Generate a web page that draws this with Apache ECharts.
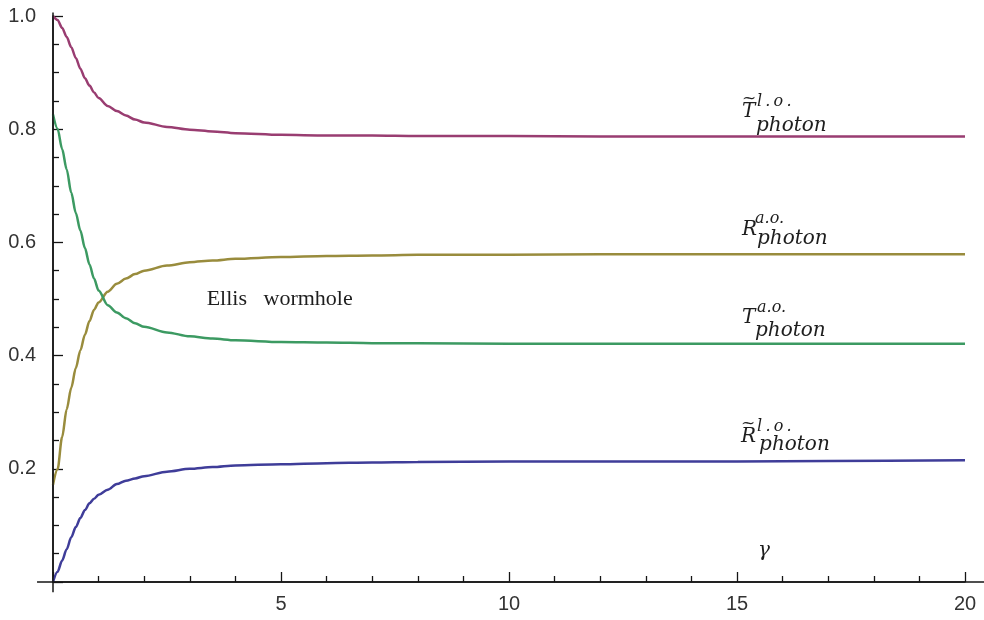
<!DOCTYPE html>
<html>
<head>
<meta charset="utf-8">
<script src="https://cdn.jsdelivr.net/npm/echarts@6/dist/echarts.min.js"></script>
<style>
  html, body { margin: 0; padding: 0; background: #ffffff; }
  #main { width: 984px; height: 620px; }
</style>
</head>
<body>
<div id="main"></div>
<script>
// ---- data ----
const gammaValues = [0, 0.1, 0.2, 0.3, 0.4, 0.5, 0.6, 0.7, 0.8, 0.9, 1, 1.2, 1.4, 1.6, 1.8, 2, 2.5, 3, 3.5, 4, 5, 6, 7, 8, 10, 12, 15, 17, 20];
const tTildeLO = [1.000, 0.993, 0.979, 0.963, 0.945, 0.926, 0.907, 0.890, 0.877, 0.865, 0.855, 0.841, 0.832, 0.824, 0.817, 0.812, 0.804, 0.799, 0.796, 0.793, 0.790, 0.789, 0.789, 0.788, 0.788, 0.787, 0.787, 0.787, 0.787];
const rAO      = [0.172, 0.199, 0.256, 0.305, 0.343, 0.378, 0.409, 0.437, 0.461, 0.481, 0.494, 0.513, 0.527, 0.536, 0.544, 0.550, 0.559, 0.565, 0.568, 0.571, 0.574, 0.576, 0.577, 0.578, 0.578, 0.579, 0.579, 0.579, 0.579];
const tAO      = [0.826, 0.801, 0.765, 0.729, 0.688, 0.652, 0.621, 0.590, 0.561, 0.536, 0.515, 0.489, 0.476, 0.466, 0.457, 0.451, 0.441, 0.434, 0.430, 0.427, 0.424, 0.423, 0.422, 0.422, 0.421, 0.421, 0.421, 0.421, 0.421];
const rTildeLO = [0.000, 0.018, 0.038, 0.058, 0.079, 0.097, 0.113, 0.127, 0.139, 0.147, 0.154, 0.163, 0.173, 0.179, 0.183, 0.187, 0.195, 0.200, 0.203, 0.206, 0.208, 0.210, 0.211, 0.212, 0.213, 0.213, 0.213, 0.214, 0.215];
const xTickLabels = [5, 10, 15, 20];
const yTickLabels = [0.2, 0.4, 0.6, 0.8, 1.0];
const annotationText = 'Ellis   wormhole';
const axisVariable = 'γ';

// ---- chart ----
const chart = echarts.init(document.getElementById('main'), null, { renderer: 'canvas' });

function pairs(ys) { return gammaValues.map((g, i) => [g, ys[i]]); }

const axisColor = '#151515';
const labelFont = { fontFamily: '"Liberation Sans", Arial, sans-serif', fontSize: 20, color: '#333333' };

function lineSeries(name, ys, color) {
  return {
    name: name,
    type: 'line',
    data: pairs(ys),
    showSymbol: false,
    symbol: 'none',
    smooth: 0.3,
    smoothMonotone: 'x',
    silent: true,
    lineStyle: { width: 2.5, color: color },
    itemStyle: { color: color }
  };
}

const option = {
  animation: false,
  backgroundColor: '#ffffff',
  grid: { left: 53, right: 19, top: 16, bottom: 38, containLabel: false },
  xAxis: {
    type: 'value',
    min: 0, max: 20, interval: 5,
    axisLine: { show: true, onZero: false, lineStyle: { color: axisColor, width: 1.5 } },
    axisTick: { show: true, inside: true, length: 10, lineStyle: { color: axisColor, width: 1.3 } },
    minorTick: { show: true, splitNumber: 5, length: 6, lineStyle: { color: axisColor, width: 1.3 } },
    splitLine: { show: false },
    minorSplitLine: { show: false },
    axisLabel: Object.assign({
      margin: 12,
      formatter: v => (xTickLabels.indexOf(v) >= 0 ? String(v) : '')
    }, labelFont)
  },
  yAxis: {
    type: 'value',
    min: 0, max: 1, interval: 0.2,
    axisLine: { show: true, onZero: false, lineStyle: { color: axisColor, width: 1.5 } },
    axisTick: { show: true, inside: true, length: 10, lineStyle: { color: axisColor, width: 1.3 } },
    minorTick: { show: true, splitNumber: 4, length: 6, lineStyle: { color: axisColor, width: 1.3 } },
    splitLine: { show: false },
    minorSplitLine: { show: false },
    axisLabel: Object.assign({
      margin: 17,
      formatter: v => {
        const hit = yTickLabels.find(t => Math.abs(t - v) < 1e-9);
        return hit === undefined ? '' : hit.toFixed(1);
      }
    }, labelFont)
  },
  series: [
    lineSeries('R~ l.o. photon', rTildeLO, '#3F3D99'),
    lineSeries('T~ l.o. photon', tTildeLO, '#993D71'),
    lineSeries('R a.o. photon', rAO, '#998C3D'),
    lineSeries('T a.o. photon', tAO, '#3C9A62')
  ]
};
chart.setOption(option);

// ---- annotations positioned in data space ----
function px(x, y) { return chart.convertToPixel({ gridIndex: 0 }, [x, y]); }
const italicSerif = size => 'italic ' + size + 'px "DejaVu Serif", "Liberation Serif", serif';
const textFill = '#1e1e1e';
const graphics = [];

function addText(text, x, baseline, font, size, align) {
  graphics.push({
    type: 'text',
    x: x,
    y: baseline - 0.34 * size,
    silent: true,
    z: 100,
    style: {
      text: text,
      font: font,
      fill: textFill,
      textAlign: align || 'left',
      verticalAlign: 'middle',
      textVerticalAlign: 'middle'
    }
  });
}

// Axis extensions beyond the plotted range (Mathematica-style crossing axes)
function addAxisLine(a, b) {
  const p1 = px(a[0], a[1]);
  const p2 = px(b[0], b[1]);
  graphics.push({
    type: 'line', silent: true, z: 50,
    shape: { x1: p1[0], y1: p1[1], x2: p2[0], y2: p2[1] },
    style: { stroke: axisColor, lineWidth: 1.5 }
  });
}
addAxisLine([-0.35, 0], [20.42, 0]);
addAxisLine([0, -0.018], [0, 1.006]);

// Curve labels: main symbol, optional tilde, superscript, subscript
const curveLabels = [
  { main: 'T', tilde: true,  sup: 'l\u2009.\u2009o\u2009.', at: [15.11, 0.8180], supDx: 15, supDy: -12, subDx: 14, subDy: 14 },
  { main: 'R', tilde: false, sup: 'a.o.', at: [15.11, 0.6095], supDx: 13, supDy: -13, subDx: 15, subDy: 9 },
  { main: 'T', tilde: false, sup: 'a.o.', at: [15.11, 0.4540], supDx: 15, supDy: -12, subDx: 13, subDy: 13 },
  { main: 'R', tilde: true,  sup: 'l\u2009.\u2009o\u2009.', at: [15.09, 0.2440], supDx: 16, supDy: -12, subDx: 18, subDy: 8 }
];
curveLabels.forEach(l => {
  const p = px(l.at[0], l.at[1]);
  addText(l.main, p[0], p[1], italicSerif(20), 20);
  if (l.tilde) addText('~', p[0] + 7, p[1] - 15, '17px "DejaVu Serif", serif', 17, 'center');
  addText(l.sup, p[0] + l.supDx, p[1] + l.supDy, italicSerif(16), 16);
  addText('photon', p[0] + l.subDx, p[1] + l.subDy, italicSerif(20), 20);
});

// "Ellis wormhole" note and axis variable
(function () {
  const p = px(3.37, 0.4864);
  addText(annotationText, p[0], p[1], '22px "Liberation Serif", "Times New Roman", serif', 22);
  const g = px(15.59, 0.043);
  addText(axisVariable, g[0], g[1], italicSerif(20), 20, 'center');
})();

chart.setOption({ graphic: graphics });
</script>
</body>
</html>
